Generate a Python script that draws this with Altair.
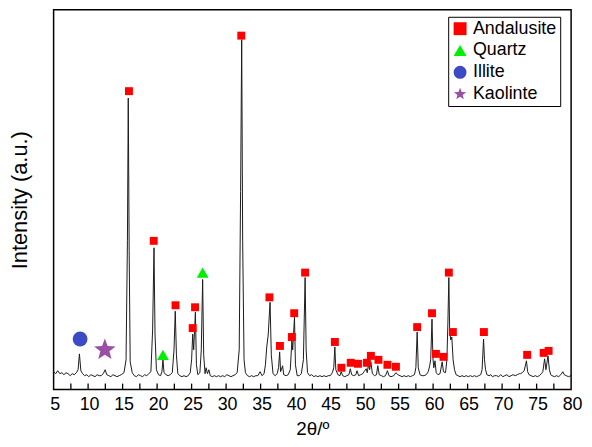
import altair as alt
import pandas as pd

# ---- XRD trace (2theta in degrees, intensity in arbitrary units) ----
two_theta = [
    5.0, 5.3, 5.6, 5.9, 6.2, 6.5, 6.8, 7.1, 7.4, 7.7, 8.0, 8.3, 8.55, 8.74, 8.95, 9.2, 9.5, 9.8,
    10.1, 10.4, 10.7, 11.0, 11.3, 11.6, 11.9, 12.2, 12.47, 12.7, 13.0, 13.3, 13.6, 13.9, 14.2, 14.5,
    14.8, 15.2, 15.5, 15.7, 15.82, 15.95, 16.1, 16.4, 16.7, 17.0, 17.3, 17.6, 17.9, 18.2, 18.5, 18.8,
    19.1, 19.35, 19.55, 19.7, 19.9, 20.2, 20.5, 20.7, 20.85, 21.0, 21.3, 21.6, 21.9, 22.2, 22.45,
    22.63, 22.8, 23.0, 23.3, 23.6, 23.9, 24.2, 24.5, 24.8, 25.0, 25.16, 25.3, 25.55, 25.7, 25.9,
    26.2, 26.4, 26.6, 26.75, 26.95, 27.1, 27.3, 27.5, 27.7, 28.0, 28.3, 28.6, 28.9, 29.2, 29.5,
    29.8, 30.1, 30.4, 30.7, 31.0, 31.3, 31.6, 31.9, 32.1, 32.26, 32.4, 32.6, 32.8, 33.1, 33.4,
    33.7, 34.0, 34.3, 34.6, 34.93, 35.2, 35.5, 35.7, 35.89, 36.1, 36.37, 36.55, 36.8, 37.1, 37.4,
    37.6, 37.76, 37.9, 38.19, 38.35, 38.7, 39.0, 39.3, 39.53, 39.65, 39.91, 40.05, 40.3, 40.6,
    40.9, 41.2, 41.45, 41.6, 41.8, 42.1, 42.4, 42.7, 43.0, 43.3, 43.6, 43.9, 44.2, 44.5, 44.8,
    45.1, 45.4, 45.6, 45.76, 45.9, 46.2, 46.5, 46.67, 46.9, 47.2, 47.5, 47.8, 48.0, 48.2, 48.5,
    48.8, 48.97, 49.2, 49.5, 49.8, 50.0, 50.3, 50.45, 50.65, 50.8, 50.98, 51.2, 51.5, 51.8,
    51.98, 52.2, 52.5, 52.8, 53.1, 53.38, 53.6, 53.9, 54.3, 54.61, 54.9, 55.2, 55.5, 55.8, 56.1,
    56.4, 56.7, 57.0, 57.3, 57.5, 57.69, 57.85, 58.1, 58.4, 58.7, 59.0, 59.3, 59.5, 59.65, 59.84,
    59.97, 60.1, 60.27, 60.45, 60.7, 61.0, 61.32, 61.5, 61.8, 62.0, 62.15, 62.28, 62.4, 62.55,
    62.71, 62.9, 63.1, 63.33, 63.6, 63.9, 64.2, 64.5, 64.8, 65.1, 65.4, 65.7, 66.0, 66.3, 66.6,
    66.9, 67.1, 67.31, 67.45, 67.6, 67.8, 68.1, 68.36, 68.6, 68.9, 69.2, 69.5, 69.8, 70.1, 70.4,
    70.7, 71.0, 71.3, 71.6, 71.9, 72.2, 72.5, 72.67, 72.9, 73.2, 73.53, 73.7, 73.9, 74.2, 74.5,
    74.8, 75.1, 75.4, 75.7, 75.9, 76.16, 76.35, 76.65, 76.85, 77.05, 77.23, 77.6, 77.9, 78.2,
    78.5, 78.81, 79.0, 79.3, 79.61, 80.0,
]
intensity = [
    18, 16, 19, 16, 17, 15, 17, 16, 14, 16, 15, 17, 20, 36, 19, 16, 14, 15,
    13, 15, 14, 13, 15, 14, 14, 16, 20, 15, 14, 13, 15, 14, 13, 14,
    15, 17, 30, 150, 294, 140, 28, 17, 14, 13, 15, 14, 13, 15, 14, 16,
    18, 60, 143, 55, 20, 15, 14, 18, 30, 17, 15, 14, 15, 17, 40,
    79, 35, 16, 14, 13, 14, 13, 14, 17, 30, 56, 40, 78, 25, 15,
    17, 40, 111, 35, 16, 22, 16, 20, 14, 13, 14, 13, 14, 13, 14,
    13, 15, 14, 13, 14, 15, 17, 40, 200, 353, 150, 30, 17, 14, 13,
    14, 13, 14, 14, 18, 14, 16, 25, 43, 55, 88, 35, 16, 14, 16,
    22, 38, 18, 24, 15, 14, 15, 20, 49, 40, 73, 25, 14, 14,
    16, 30, 113, 40, 17, 14, 15, 13, 14, 13, 14, 13, 14, 13, 14,
    14, 17, 22, 43, 20, 15, 14, 18, 14, 13, 14, 15, 21, 15, 14,
    15, 19, 14, 15, 16, 18, 21, 17, 26, 20, 28, 16, 14, 15,
    24, 15, 14, 13, 14, 19, 14, 13, 14, 17, 15, 14, 13, 14, 13,
    14, 13, 14, 15, 22, 58, 22, 15, 14, 14, 15, 18, 24, 30, 71,
    32, 22, 29, 17, 15, 16, 28, 18, 17, 30, 70, 113, 60, 50,
    53, 30, 20, 15, 14, 13, 14, 13, 14, 13, 14, 13, 14, 13, 14,
    15, 20, 51, 30, 20, 15, 14, 15, 13, 14, 14, 13, 15, 13, 14,
    15, 13, 14, 15, 14, 15, 16, 16, 17, 19, 29, 18, 15, 14, 13,
    14, 13, 14, 16, 18, 31, 20, 34, 20, 15, 14, 13, 14, 13,
    15, 18, 15, 14, 13, 14,
]

# ---- phase markers ----
andalusite_theta = [15.92, 19.51, 22.67, 25.16, 25.50, 32.20, 36.28, 37.80, 39.53, 39.87,
                    41.45, 45.76, 46.71, 48.06, 49.11, 50.40, 50.98, 52.08, 53.38, 54.61,
                    57.69, 59.84, 60.41, 61.51, 62.28, 62.86, 67.36, 73.63, 76.02, 76.74]
andalusite_int = [301, 150, 85, 62, 83, 357, 93, 44, 53, 77,
                  118, 48, 22, 27, 26, 27, 34, 30, 25, 23,
                  63, 77, 36, 33, 118, 58, 58, 35, 37, 39]
quartz_theta = [20.85, 26.60]
quartz_int = [35, 118]
illite_theta = [8.84]
illite_int = [51]
kaolinite_theta = [12.43]
kaolinite_int = [40]

phases = ["Andalusite", "Quartz", "Illite", "Kaolinte"]
phase_colors = ["#ff0000", "#00ee00", "#3d4ac6", "#9a4ea6"]
star = ("M0,-1L0.2469,-0.3398L0.951,-0.309L0.3994,0.1298L0.588,0.809L0,0.42"
        "L-0.588,0.809L-0.3994,0.1298L-0.951,-0.309L-0.2469,-0.3398Z")
phase_shapes = ["square", "triangle-up", "circle", star]
phase_sizes = [64, 144, 225, 520]

x_label_values = [5, 10, 15, 20, 25, 30, 35, 40, 45, 50, 55, 60, 65, 70, 75, 80]
x_tick_values = [7.5, 10, 12.5, 15, 17.5, 20, 22.5, 25, 27.5, 30, 32.5, 35, 37.5, 40, 42.5,
                 45, 47.5, 50, 52.5, 55, 57.5, 60, 62.5, 65, 67.5, 70, 72.5, 75, 77.5]

FONT = "Liberation Sans"

trace_df = pd.DataFrame({"theta": two_theta, "intensity": intensity})
marker_df = pd.concat([
    pd.DataFrame({"theta": andalusite_theta, "intensity": andalusite_int, "phase": phases[0]}),
    pd.DataFrame({"theta": quartz_theta, "intensity": quartz_int, "phase": phases[1]}),
    pd.DataFrame({"theta": illite_theta, "intensity": illite_int, "phase": phases[2]}),
    pd.DataFrame({"theta": kaolinite_theta, "intensity": kaolinite_int, "phase": phases[3]}),
], ignore_index=True)
tick_df = pd.DataFrame({"theta": x_tick_values})

x_scale = alt.Scale(domain=[5, 80], nice=False, zero=False)
y_scale = alt.Scale(domain=[0, 383], nice=False, zero=True)

x_axis = alt.Axis(values=x_label_values, title="2θ/º", grid=False, ticks=False, tickSize=0,
                  domain=False, labelFontSize=18, labelFont=FONT, labelColor="black",
                  labelPadding=6, labelFlush=False, labelOffset=1, labelOverlap=False,
                  titleFontSize=19, titleFont=FONT, titleFontWeight="normal",
                  titleColor="black", titlePadding=6)
y_axis = alt.Axis(title="Intensity (a.u.)", grid=False, ticks=False, tickSize=0, labels=False,
                  domain=False, titleFontSize=22, titleFont=FONT, titleFontWeight="normal",
                  titleColor="black", titlePadding=22)

x_enc = alt.X("theta:Q", scale=x_scale, axis=x_axis)
y_enc = alt.Y("intensity:Q", scale=y_scale, axis=y_axis)

trace = alt.Chart(trace_df).mark_line(color="#1a1a1a", strokeWidth=1).encode(x=x_enc, y=y_enc)

ticks = alt.Chart(tick_df).mark_rule(color="black", strokeWidth=1.3).encode(
    x=x_enc,
    y=alt.datum(0),
    y2=alt.datum(6),
)

legend = alt.Legend(title=None, orient="none", legendX=398, legendY=7,
                    strokeColor="black", fillColor="white", padding=3,
                    labelFont=FONT, labelFontSize=18, labelColor="black",
                    symbolSize=170, symbolStrokeWidth=0, rowPadding=4, labelOffset=4)

color_enc = alt.Color("phase:N", scale=alt.Scale(domain=phases, range=phase_colors), legend=legend)
shape_enc = alt.Shape("phase:N", scale=alt.Scale(domain=phases, range=phase_shapes))

marker_layers = []
for name, size in zip(phases, phase_sizes):
    marker_layers.append(
        alt.Chart(marker_df).transform_filter(alt.datum.phase == name)
        .mark_point(filled=True, opacity=1, size=size, strokeWidth=0)
        .encode(x=x_enc, y=y_enc, color=color_enc, shape=shape_enc)
    )

chart = alt.layer(trace, ticks, *marker_layers).properties(
    width=522, height=383,
    autosize=alt.AutoSizeParams(type="none"),
    padding={"left": 46, "top": 0, "right": 13, "bottom": 48},
    background="white",
).configure_view(stroke="black", strokeWidth=1.5).configure_axisX(labelOverlap=False)

chart.save("out.html", embed_options={"renderer": "svg", "actions": False})
